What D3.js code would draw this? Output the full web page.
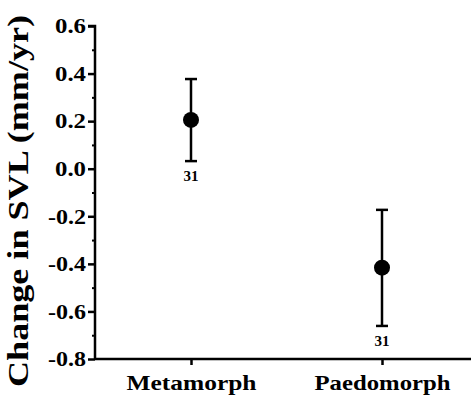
<!DOCTYPE html>
<html>
  <head>
    <style>
      body,
      html {
        margin: 0;
        padding: 0;
        background: #fff;
      }
      svg text {
        font-family: 'Liberation Serif', 'DejaVu Serif', serif;
        font-weight: bold;
      }
    </style>
  </head>
  <body>
    <svg id="svg" width="471" height="400"></svg>

    <script src="https://cdn.jsdelivr.net/npm/d3@7"></script>
    <script>
      const categories = ['Metamorph', 'Paedomorph'];
      const means = [0.205, -0.416];
      const upper = [0.377, -0.173];
      const lower = [0.032, -0.661];
      const counts = ['31', '31'];
      const yTicks = [0.6, 0.4, 0.2, 0.0, -0.2, -0.4, -0.6, -0.8];
      const yTickLabels = ['0.6', '0.4', '0.2', '0.0', '-0.2', '-0.4', '-0.6', '-0.8'];
      const yMinorTicks = [0.5, 0.3, 0.1, -0.1, -0.3, -0.5, -0.7];

      const svg = d3.select('#svg');
      const xScale = d3.scalePoint().domain(categories).range([191, 382]);
      const yScale = d3.scaleLinear().domain([-0.8, 0.6]).range([359, 26]);

      // y axis
      svg
        .append('g')
        .attr('transform', 'translate(95,0)')
        .call(
          d3
            .axisLeft(yScale)
            .tickValues(yTicks)
            .tickSize(7)
            .tickPadding(2)
            .tickFormat((d, i) => yTickLabels[i])
        )
        .call((g) => g.select('.domain').attr('stroke-width', 2.5).attr('d', 'M-7,26H0V359'))
        .call((g) => g.selectAll('.tick line').attr('stroke-width', 2.5))
        .call((g) =>
          g
            .selectAll('.tick text')
            .attr('font-size', 21)
            .attr('fill', '#000')
            .attr('textLength', (d, i) => (yTickLabels[i].length === 3 ? 31 : 38))
            .attr('lengthAdjust', 'spacingAndGlyphs')
        );

      svg
        .append('g')
        .attr('transform', 'translate(95,0)')
        .call(d3.axisLeft(yScale).tickValues(yMinorTicks).tickSize(3).tickFormat(''))
        .call((g) => g.select('.domain').remove())
        .call((g) => g.selectAll('.tick line').attr('stroke-width', 2));

      // x axis
      svg
        .append('g')
        .attr('transform', 'translate(0,359)')
        .call(d3.axisBottom(xScale).tickSize(6).tickPadding(10))
        .call((g) => g.select('.domain').attr('stroke-width', 2.5).attr('d', 'M95,0H471'))
        .call((g) => g.selectAll('.tick line').attr('stroke-width', 2.5))
        .call((g) =>
          g
            .selectAll('.tick text')
            .attr('font-size', 21)
            .attr('fill', '#000')
            .attr('textLength', (d) => (d === 'Metamorph' ? 130 : 136))
            .attr('lengthAdjust', 'spacingAndGlyphs')
        );

      // y title
      svg
        .append('text')
        .attr('transform', 'translate(28,201) rotate(-90)')
        .attr('text-anchor', 'middle')
        .attr('font-size', 30)
        .attr('textLength', 372)
        .attr('lengthAdjust', 'spacingAndGlyphs')
        .text('Change in SVL (mm/yr)');

      const groups = svg
        .selectAll('.pt')
        .data(categories)
        .join('g')
        .attr('class', 'pt');

      groups
        .append('line')
        .attr('x1', (d) => xScale(d))
        .attr('x2', (d) => xScale(d))
        .attr('y1', (d, i) => yScale(upper[i]))
        .attr('y2', (d, i) => yScale(lower[i]))
        .attr('stroke', '#000')
        .attr('stroke-width', 2.5);

      [upper, lower].forEach((arr) => {
        groups
          .append('line')
          .attr('x1', (d) => xScale(d) - 6)
          .attr('x2', (d) => xScale(d) + 6)
          .attr('y1', (d, i) => yScale(arr[i]))
          .attr('y2', (d, i) => yScale(arr[i]))
          .attr('stroke', '#000')
          .attr('stroke-width', 2.5);
      });

      groups
        .append('circle')
        .attr('cx', (d) => xScale(d))
        .attr('cy', (d, i) => yScale(means[i]))
        .attr('r', 8)
        .attr('fill', '#000');

      groups
        .append('text')
        .attr('x', (d) => xScale(d))
        .attr('y', (d, i) => yScale(lower[i]) + 20)
        .attr('text-anchor', 'middle')
        .attr('font-size', 15)
        .text((d, i) => counts[i]);
    </script>
  </body>
</html>
